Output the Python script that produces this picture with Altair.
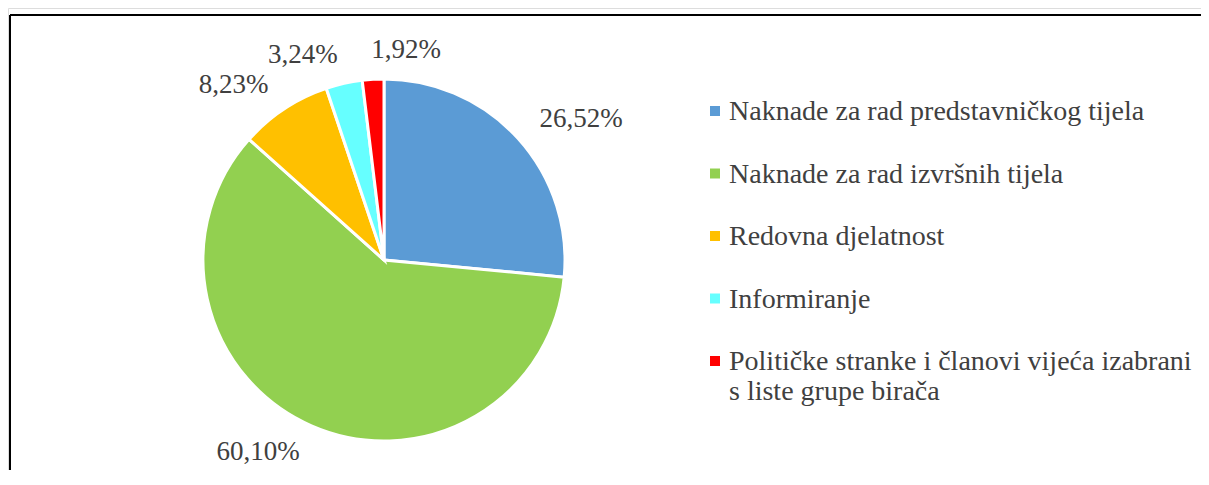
import altair as alt
import pandas as pd

# ---- data ----
categories = [
    "Naknade za rad predstavničkog tijela",
    "Naknade za rad izvršnih tijela",
    "Redovna djelatnost",
    "Informiranje",
    "Političke stranke i članovi vijeća izabrani\ns liste grupe birača",
]
values = [26.52, 60.10, 8.23, 3.24, 1.92]
colors = ["#5B9BD5", "#92D050", "#FFC000", "#66FFFF", "#FF0000"]

df = pd.DataFrame({"category": categories, "value": values, "order": list(range(len(values)))})
total = sum(values)

# ---- layout / style ----
W, H = 1193, 462
CX, CY = 376, 252
R = 181
LABEL_R = 210
FONT = "Liberation Serif"
TEXT_COLOR = "#404040"

theta_scale = alt.Scale(domain=[0, total])

base = alt.Chart(df).transform_window(
    cum="sum(value)", sort=[alt.SortField("order")], frame=[None, 0]
).transform_calculate(
    start="datum.cum - datum.value",
    mid="datum.cum - datum.value / 2",
    label="replace(format(datum.value, '.2f'), '.', ',') + '%'",
)

pie = base.mark_arc(outerRadius=R, stroke="white", strokeWidth=3).encode(
    theta=alt.Theta("start:Q", scale=theta_scale, stack=False),
    theta2="cum:Q",
    color=alt.Color(
        "category:N",
        scale=alt.Scale(domain=categories, range=colors),
        legend=alt.Legend(
            title=None,
            orient="none",
            legendX=693,
            legendY=89,
            padding=0,
            symbolType="square",
            symbolSize=100,
            symbolStrokeWidth=0,
            labelFont=FONT,
            labelFontSize=28,
            labelColor=TEXT_COLOR,
            labelLimit=800,
            labelOffset=0,
            rowPadding=33.5,
            labelBaseline="alphabetic",
            labelExpr="split(datum.label, '\\n')",
        ),
    ),
    order=alt.Order("order:Q"),
    x=alt.value(CX),
    y=alt.value(CY),
)

labels = base.mark_text(
    radius=LABEL_R,
    font=FONT,
    fontSize=27,
    color=TEXT_COLOR,
    baseline="middle",
    align=alt.ExprRef(expr="sin(2 * PI * datum.mid / %f) > -0.1 ? 'left' : 'right'" % total),
).encode(
    theta=alt.Theta("mid:Q", scale=theta_scale, stack=False),
    text="label:N",
    x=alt.value(CX),
    y=alt.value(CY),
)

one = pd.DataFrame({"k": [0]})
frame_top = alt.Chart(one).mark_rule(color="black", strokeWidth=2).encode(
    x=alt.value(2), x2=alt.value(W), y=alt.value(7)
)
frame_left = alt.Chart(one).mark_rule(color="black", strokeWidth=2).encode(
    x=alt.value(2), y=alt.value(7), y2=alt.value(H)
)

chart = (
    alt.layer(frame_top, frame_left, pie, labels)
    .properties(width=W, height=H, padding=0, autosize="none", background="white")
    .configure_view(stroke="transparent")
    .configure(style={"guide-label": {"dy": 9, "lineHeight": 30}})
)

chart.save("out.html", embed_options={"renderer": "svg", "actions": False})
